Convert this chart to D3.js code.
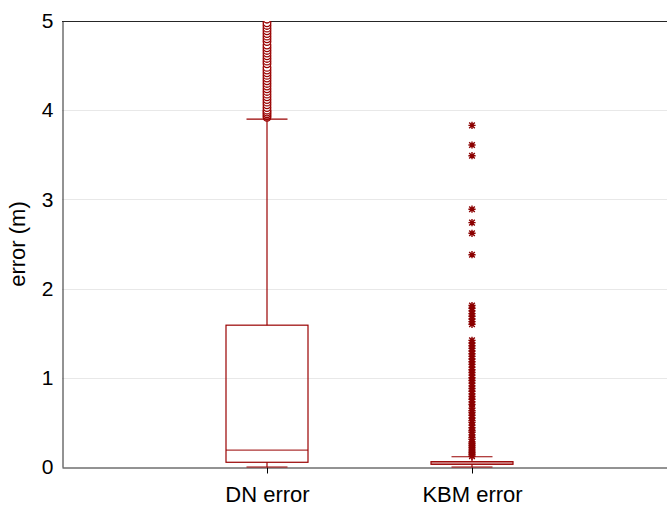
<!DOCTYPE html>
<html>
<head>
<meta charset="utf-8">
<script src="https://cdn.jsdelivr.net/npm/d3@7"></script>
<style>
  html, body { margin: 0; padding: 0; background: #fff; }
  svg { display: block; font-family: "Liberation Sans", Arial, Helvetica, sans-serif; }
</style>
</head>
<body>
<svg id="chart" width="667" height="506"></svg>
<script>
// ---- data ----
const categories = ["DN error", "KBM error"];
const categoryPositions = [1, 2];
const yTicks = [0, 1, 2, 3, 4, 5];
// box statistics: [lowerWhisker, q1, median, q3, upperWhisker]
const dnStats = [0.0, 0.053, 0.19, 1.59, 3.9];
const kbmStats = [0.0, 0.03, 0.045, 0.06, 0.115];
// outliers
const dnOutliers = [3.92, 3.94, 3.96, 3.98, 4.0, 4.03, 4.06, 4.09, 4.12, 4.15, 4.18, 4.21, 4.24, 4.27, 4.3,
  4.33, 4.36, 4.39, 4.42, 4.45, 4.48, 4.52, 4.55, 4.58, 4.61, 4.64, 4.67, 4.7, 4.73, 4.77, 4.8,
  4.83, 4.86, 4.89, 4.92, 4.95, 4.98, 5.02, 5.1, 5.3];
const kbmOutliers = [0.12, 0.14, 0.16, 0.18, 0.2, 0.22, 0.24, 0.26, 0.28, 0.31, 0.33, 0.36, 0.39, 0.41,
  0.44, 0.47, 0.5, 0.52, 0.55, 0.58, 0.61, 0.63, 0.66, 0.7, 0.73, 0.76, 0.79, 0.82, 0.85, 0.88,
  0.91, 0.94, 0.97, 1.0, 1.03, 1.06, 1.09, 1.12, 1.15, 1.18, 1.21, 1.24, 1.27, 1.3, 1.33, 1.36,
  1.39, 1.42, 1.6, 1.63, 1.66, 1.69, 1.72, 1.75, 1.78, 1.81, 2.38, 2.62, 2.74, 2.89, 3.49, 3.61, 3.83];

(function () {
// ---- layout ----
const svg = d3.select("#chart");
const pLeft = 62, pTop = 21, pBottom = 467, pRight = 677;
const color = "#990000";

const x = d3.scaleLinear().domain([0, 3]).range([pLeft, pRight]);
const y = d3.scaleLinear().domain([0, 5]).range([pBottom, pTop]);

svg.append("defs").append("clipPath").attr("id", "plotclip")
  .append("rect").attr("x", pLeft).attr("y", pTop).attr("width", pRight - pLeft).attr("height", pBottom - pTop);

// gridlines
svg.append("g").selectAll("line").data(yTicks.filter(d => d > 0 && d < 5)).join("line")
  .attr("x1", pLeft).attr("x2", pRight)
  .attr("y1", d => Math.round(y(d)) + 0.5).attr("y2", d => Math.round(y(d)) + 0.5)
  .attr("stroke", "#e8e8e8").attr("stroke-width", 1);

// axes
const yAxis = d3.axisLeft(y).tickValues(yTicks).tickSize(0).tickPadding(9).tickFormat(d3.format("d"));
const gy = svg.append("g").attr("transform", `translate(${pLeft + 0.5},0)`).call(yAxis);
gy.select(".domain").attr("stroke", "#262626");
gy.selectAll("text").attr("font-size", 21).attr("fill", "#000")
  .attr("font-family", "'Liberation Sans', Arial, sans-serif");

const xAxis = d3.axisBottom(x).tickValues(categoryPositions).tickSize(6).tickSizeOuter(0).tickPadding(13)
  .tickFormat((d, i) => categories[i]);
const gx = svg.append("g").attr("transform", `translate(0,${pBottom + 0.5})`).call(xAxis);
gx.select(".domain").attr("stroke", "#262626");
gx.selectAll(".tick line").attr("stroke", "#000");
gx.selectAll("text").attr("font-size", 22).attr("fill", "#000")
  .attr("font-family", "'Liberation Sans', Arial, sans-serif");

// top border
svg.append("line").attr("x1", pLeft).attr("x2", pRight)
  .attr("y1", pTop + 0.5).attr("y2", pTop + 0.5).attr("stroke", "#262626");

// y label
svg.append("text").attr("transform", `translate(25,${(y(2) + y(3)) / 2}) rotate(-90)`)
  .attr("text-anchor", "middle").attr("font-size", 22).attr("fill", "#000")
  .text("error (m)");

// boxes
const plot = svg.append("g").attr("clip-path", "url(#plotclip)");
const boxHalf = 0.2, capHalf = 0.1;
const boxes = [
  { pos: categoryPositions[0], s: dnStats },
  { pos: categoryPositions[1], s: kbmStats }
];
boxes.forEach(b => {
  const g = svg.append("g").attr("stroke", color).attr("fill", "none").attr("stroke-width", 1.2);
  const cx = x(b.pos);
  g.append("line").attr("x1", cx).attr("x2", cx).attr("y1", y(b.s[3])).attr("y2", y(b.s[4]));
  g.append("line").attr("x1", cx).attr("x2", cx).attr("y1", y(b.s[1])).attr("y2", y(b.s[0]));
  [b.s[0], b.s[4]].forEach(v => {
    g.append("line").attr("x1", x(b.pos - capHalf)).attr("x2", x(b.pos + capHalf))
      .attr("y1", y(v)).attr("y2", y(v));
  });
  g.append("rect").attr("x", x(b.pos - boxHalf)).attr("width", x(b.pos + boxHalf) - x(b.pos - boxHalf))
    .attr("y", y(b.s[3])).attr("height", y(b.s[1]) - y(b.s[3]));
  g.append("line").attr("x1", x(b.pos - boxHalf)).attr("x2", x(b.pos + boxHalf))
    .attr("y1", y(b.s[2])).attr("y2", y(b.s[2])).attr("stroke-opacity", 0.8);
});

// DN outliers (circles)
plot.append("g").selectAll("circle").data(dnOutliers).join("circle")
  .attr("cx", x(categoryPositions[0])).attr("cy", d => y(d)).attr("r", 3.8)
  .attr("fill", "#fff").attr("stroke", color).attr("stroke-width", 1.3);

// KBM outliers (asterisks)
const a = 3.6, dg = 2.8;
const starPath = `M${-a},0L${a},0M0,${-a}L0,${a}M${-dg},${-dg}L${dg},${dg}M${-dg},${dg}L${dg},${-dg}`;
plot.append("g").selectAll("path").data(kbmOutliers).join("path")
  .attr("transform", d => `translate(${x(categoryPositions[1])},${y(d)})`)
  .attr("d", starPath).attr("fill", "none").attr("stroke", "#8b0000").attr("stroke-width", 1.4);
})();
</script>
</body>
</html>
